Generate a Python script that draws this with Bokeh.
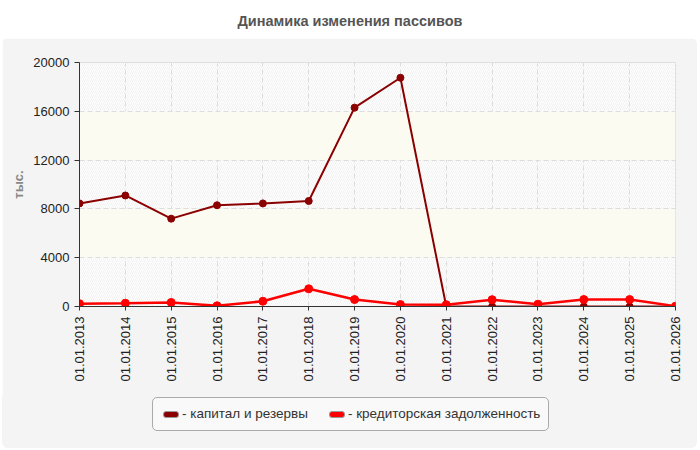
import math

from bokeh.plotting import figure
from bokeh.models import Range1d, FixedTicker, BoxAnnotation, Div
from bokeh.layouts import column
from bokeh.embed import file_html
from bokeh.resources import INLINE

# data (тыс.)
dates = ["01.01.2013", "01.01.2014", "01.01.2015", "01.01.2016", "01.01.2017",
         "01.01.2018", "01.01.2019", "01.01.2020", "01.01.2021", "01.01.2022",
         "01.01.2023", "01.01.2024", "01.01.2025", "01.01.2026"]
capital = [8450, 9100, 7200, 8300, 8450, 8650, 16300, 18750, 0, 0, 0, 0, 0, 0]
payables = [230, 270, 330, 60, 430, 1450, 570, 160, 150, 560, 190, 570, 570, 30]
y_ticks = [0, 4000, 8000, 12000, 16000, 20000]
series_names = ["капитал и резервы", "кредиторская задолженность"]
series_colors = ["#8b0000", "#ff0000"]

FONT = "Liberation Sans"
xs = list(range(len(dates)))

title = Div(text="Динамика изменения пассивов", width=700, height=38, margin=0,
            styles={"text-align": "center", "font-family": FONT, "font-weight": "bold",
                    "font-size": "14.5px", "color": "#555555", "line-height": "42px",
                    "width": "700px"})

p = figure(width=695, height=357,
           min_border_left=77, min_border_right=22, min_border_top=24, min_border_bottom=89,
           x_range=Range1d(0, len(dates) - 1), y_range=Range1d(0, y_ticks[-1]),
           output_backend="svg", toolbar_location=None,
           border_fill_color="#f4f4f4", background_fill_color="white",
           outline_line_color="#dddddd", margin=(0, 0, 0, 2),
           styles={"border-radius": "6px 6px 0 0", "overflow": "hidden"})

# hatched background, plain light bands on top of it
p.add_layout(BoxAnnotation(fill_alpha=0, line_color=None, hatch_pattern="/",
                           hatch_color="#f1f1f1", hatch_scale=4, hatch_weight=1,
                           level="image"))
p.ygrid.band_fill_color = "#fbfbf2"
p.ygrid.band_fill_alpha = 1
p.grid.grid_line_color = "#dddddd"
p.grid.grid_line_dash = "5 3"

p.xaxis.ticker = FixedTicker(ticks=xs)
p.xaxis.major_label_overrides = {i: d for i, d in enumerate(dates)}
p.xaxis.major_label_orientation = math.pi / 2
p.xaxis.major_tick_out = 4
p.xaxis.major_label_standoff = 6
p.yaxis.ticker = FixedTicker(ticks=y_ticks)
p.yaxis.major_tick_out = 5
p.yaxis.major_label_standoff = 5
p.yaxis.axis_label = "тыс."
p.yaxis.axis_label_text_font = FONT
p.yaxis.axis_label_text_font_style = "bold"
p.yaxis.axis_label_text_font_size = "13px"
p.yaxis.axis_label_text_color = "#888888"
p.yaxis.axis_label_standoff = 4
p.axis.minor_tick_line_color = None
p.axis.major_tick_in = 0
p.axis.axis_line_color = "#333333"
p.axis.major_tick_line_color = "#333333"
p.axis.major_label_text_font = FONT
p.axis.major_label_text_font_size = "13px"
p.axis.major_label_text_color = "#222222"

p.line(xs, capital, line_color=series_colors[0], line_width=2)
p.scatter(xs, capital, size=7, color=series_colors[0])
p.line(xs, payables, line_color=series_colors[1], line_width=2.5)
p.scatter(xs, payables, size=8, color=series_colors[1])

# legend under the plot, in the same grey panel
items = ""
for i, (name, color) in enumerate(zip(series_names, series_colors)):
    gap = "0" if i == 0 else "21px"
    items += (f'<span style="display:inline-block;width:16px;height:7px;background:{color};'
              f'border:1px solid #999;border-radius:3px;margin-left:{gap}"></span>'
              f'<span style="margin-left:3px;white-space:nowrap">- {name}</span>')
legend_html = (f'<div style="display:inline-flex;align-items:center;height:34px;padding:0 8px 0 10px;'
               f'border:1px solid #aaaaaa;border-radius:5px;background:#f9f9f9;'
               f'font-family:\'{FONT}\';font-size:13.5px;color:#333333;margin:2px 0 0 150px">'
               f'{items}</div>')
legend = Div(text=legend_html, width=695, height=53, margin=(0, 0, 0, 2),
             styles={"background": "#f4f4f4", "border-radius": "0 0 6px 6px"})

layout = column(title, p, legend, spacing=0, margin=0)
open("out.html", "w").write(file_html(layout, INLINE))
